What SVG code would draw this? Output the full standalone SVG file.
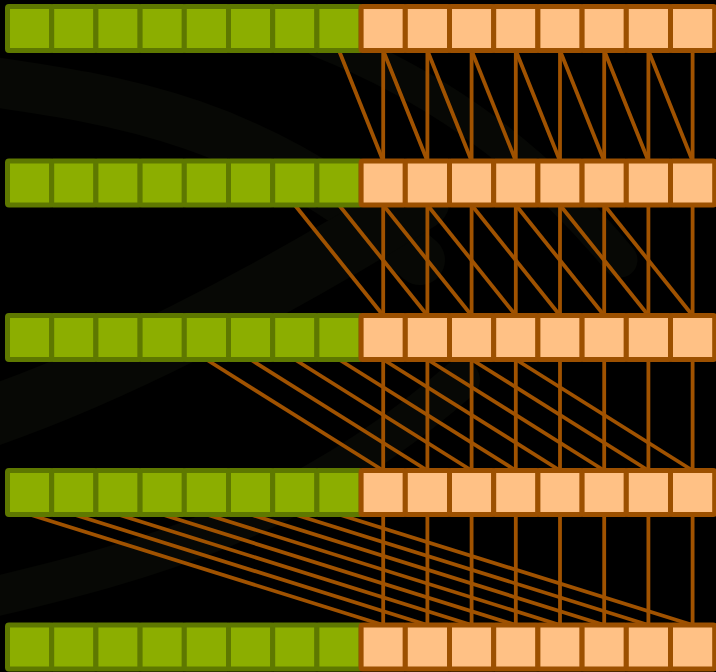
<svg xmlns="http://www.w3.org/2000/svg" width="716" height="672" viewBox="0 0 716 672">
<style>
.g{fill:#8cae00;stroke:#5e7800;stroke-width:5}
.o{fill:#ffc185;stroke:#9c5000;stroke-width:5}
.c line{stroke:#a05200;stroke-width:3.8;stroke-linecap:butt}
.bg{fill:none;stroke:#070805;stroke-linecap:round}
</style>
<defs>
<rect id="cell" width="44.2" height="44" rx="1.5"/>
</defs>
<rect width="716" height="672" fill="#000"/>
<g id="background">
<path class="bg" stroke-width="50" d="M-20 80 C120 100 260 120 420 260"/>
<path class="bg" stroke-width="35" d="M320 40 C420 80 520 140 620 260"/>
<path class="bg" stroke-width="60" d="M-20 420 C100 380 260 300 420 200"/>
<path class="bg" stroke-width="40" d="M-20 600 C150 560 300 520 460 380"/>
</g>
<g class="c" id="connectors">
<line x1="383.2" y1="50.5" x2="383.2" y2="161"/><line x1="427.4" y1="50.5" x2="427.4" y2="161"/><line x1="471.6" y1="50.5" x2="471.6" y2="161"/><line x1="515.8" y1="50.5" x2="515.8" y2="161"/><line x1="560" y1="50.5" x2="560" y2="161"/><line x1="604.2" y1="50.5" x2="604.2" y2="161"/><line x1="648.4" y1="50.5" x2="648.4" y2="161"/><line x1="692.6" y1="50.5" x2="692.6" y2="161"/>
<line x1="339" y1="50.5" x2="383.2" y2="161"/><line x1="383.2" y1="50.5" x2="427.4" y2="161"/><line x1="427.4" y1="50.5" x2="471.6" y2="161"/><line x1="471.6" y1="50.5" x2="515.8" y2="161"/><line x1="515.8" y1="50.5" x2="560" y2="161"/><line x1="560" y1="50.5" x2="604.2" y2="161"/><line x1="604.2" y1="50.5" x2="648.4" y2="161"/><line x1="648.4" y1="50.5" x2="692.6" y2="161"/>
<line x1="383.2" y1="205" x2="383.2" y2="315.5"/><line x1="427.4" y1="205" x2="427.4" y2="315.5"/><line x1="471.6" y1="205" x2="471.6" y2="315.5"/><line x1="515.8" y1="205" x2="515.8" y2="315.5"/><line x1="560" y1="205" x2="560" y2="315.5"/><line x1="604.2" y1="205" x2="604.2" y2="315.5"/><line x1="648.4" y1="205" x2="648.4" y2="315.5"/><line x1="692.6" y1="205" x2="692.6" y2="315.5"/>
<line x1="294.8" y1="205" x2="383.2" y2="315.5"/><line x1="339" y1="205" x2="427.4" y2="315.5"/><line x1="383.2" y1="205" x2="471.6" y2="315.5"/><line x1="427.4" y1="205" x2="515.8" y2="315.5"/><line x1="471.6" y1="205" x2="560" y2="315.5"/><line x1="515.8" y1="205" x2="604.2" y2="315.5"/><line x1="560" y1="205" x2="648.4" y2="315.5"/><line x1="604.2" y1="205" x2="692.6" y2="315.5"/>
<line x1="383.2" y1="359.5" x2="383.2" y2="470.5"/><line x1="427.4" y1="359.5" x2="427.4" y2="470.5"/><line x1="471.6" y1="359.5" x2="471.6" y2="470.5"/><line x1="515.8" y1="359.5" x2="515.8" y2="470.5"/><line x1="560" y1="359.5" x2="560" y2="470.5"/><line x1="604.2" y1="359.5" x2="604.2" y2="470.5"/><line x1="648.4" y1="359.5" x2="648.4" y2="470.5"/><line x1="692.6" y1="359.5" x2="692.6" y2="470.5"/>
<line x1="206.4" y1="359.5" x2="383.2" y2="470.5"/><line x1="250.6" y1="359.5" x2="427.4" y2="470.5"/><line x1="294.8" y1="359.5" x2="471.6" y2="470.5"/><line x1="339" y1="359.5" x2="515.8" y2="470.5"/><line x1="383.2" y1="359.5" x2="560" y2="470.5"/><line x1="427.4" y1="359.5" x2="604.2" y2="470.5"/><line x1="471.6" y1="359.5" x2="648.4" y2="470.5"/><line x1="515.8" y1="359.5" x2="692.6" y2="470.5"/>
<line x1="383.2" y1="514.5" x2="383.2" y2="625"/><line x1="427.4" y1="514.5" x2="427.4" y2="625"/><line x1="471.6" y1="514.5" x2="471.6" y2="625"/><line x1="515.8" y1="514.5" x2="515.8" y2="625"/><line x1="560" y1="514.5" x2="560" y2="625"/><line x1="604.2" y1="514.5" x2="604.2" y2="625"/><line x1="648.4" y1="514.5" x2="648.4" y2="625"/><line x1="692.6" y1="514.5" x2="692.6" y2="625"/>
<line x1="29.6" y1="514.5" x2="383.2" y2="625"/><line x1="73.8" y1="514.5" x2="427.4" y2="625"/><line x1="118" y1="514.5" x2="471.6" y2="625"/><line x1="162.2" y1="514.5" x2="515.8" y2="625"/><line x1="206.4" y1="514.5" x2="560" y2="625"/><line x1="250.6" y1="514.5" x2="604.2" y2="625"/><line x1="294.8" y1="514.5" x2="648.4" y2="625"/><line x1="339" y1="514.5" x2="692.6" y2="625"/>
</g>
<g id="row0" transform="translate(0,6.5)">
<g id="r0c0"><use href="#cell" class="g" x="7.5"/></g><g id="r0c1"><use href="#cell" class="g" x="51.7"/></g><g id="r0c2"><use href="#cell" class="g" x="95.9"/></g><g id="r0c3"><use href="#cell" class="g" x="140.1"/></g><g id="r0c4"><use href="#cell" class="g" x="184.3"/></g><g id="r0c5"><use href="#cell" class="g" x="228.5"/></g><g id="r0c6"><use href="#cell" class="g" x="272.7"/></g><g id="r0c7"><use href="#cell" class="g" x="316.9"/></g>
<g id="r0c8"><use href="#cell" class="o" x="361.1"/></g><g id="r0c9"><use href="#cell" class="o" x="405.3"/></g><g id="r0c10"><use href="#cell" class="o" x="449.5"/></g><g id="r0c11"><use href="#cell" class="o" x="493.7"/></g><g id="r0c12"><use href="#cell" class="o" x="537.9"/></g><g id="r0c13"><use href="#cell" class="o" x="582.1"/></g><g id="r0c14"><use href="#cell" class="o" x="626.3"/></g><g id="r0c15"><use href="#cell" class="o" x="670.5"/></g>
</g>
<g id="row1" transform="translate(0,161)">
<g id="r1c0"><use href="#cell" class="g" x="7.5"/></g><g id="r1c1"><use href="#cell" class="g" x="51.7"/></g><g id="r1c2"><use href="#cell" class="g" x="95.9"/></g><g id="r1c3"><use href="#cell" class="g" x="140.1"/></g><g id="r1c4"><use href="#cell" class="g" x="184.3"/></g><g id="r1c5"><use href="#cell" class="g" x="228.5"/></g><g id="r1c6"><use href="#cell" class="g" x="272.7"/></g><g id="r1c7"><use href="#cell" class="g" x="316.9"/></g>
<g id="r1c8"><use href="#cell" class="o" x="361.1"/></g><g id="r1c9"><use href="#cell" class="o" x="405.3"/></g><g id="r1c10"><use href="#cell" class="o" x="449.5"/></g><g id="r1c11"><use href="#cell" class="o" x="493.7"/></g><g id="r1c12"><use href="#cell" class="o" x="537.9"/></g><g id="r1c13"><use href="#cell" class="o" x="582.1"/></g><g id="r1c14"><use href="#cell" class="o" x="626.3"/></g><g id="r1c15"><use href="#cell" class="o" x="670.5"/></g>
</g>
<g id="row2" transform="translate(0,315.5)">
<g id="r2c0"><use href="#cell" class="g" x="7.5"/></g><g id="r2c1"><use href="#cell" class="g" x="51.7"/></g><g id="r2c2"><use href="#cell" class="g" x="95.9"/></g><g id="r2c3"><use href="#cell" class="g" x="140.1"/></g><g id="r2c4"><use href="#cell" class="g" x="184.3"/></g><g id="r2c5"><use href="#cell" class="g" x="228.5"/></g><g id="r2c6"><use href="#cell" class="g" x="272.7"/></g><g id="r2c7"><use href="#cell" class="g" x="316.9"/></g>
<g id="r2c8"><use href="#cell" class="o" x="361.1"/></g><g id="r2c9"><use href="#cell" class="o" x="405.3"/></g><g id="r2c10"><use href="#cell" class="o" x="449.5"/></g><g id="r2c11"><use href="#cell" class="o" x="493.7"/></g><g id="r2c12"><use href="#cell" class="o" x="537.9"/></g><g id="r2c13"><use href="#cell" class="o" x="582.1"/></g><g id="r2c14"><use href="#cell" class="o" x="626.3"/></g><g id="r2c15"><use href="#cell" class="o" x="670.5"/></g>
</g>
<g id="row3" transform="translate(0,470.5)">
<g id="r3c0"><use href="#cell" class="g" x="7.5"/></g><g id="r3c1"><use href="#cell" class="g" x="51.7"/></g><g id="r3c2"><use href="#cell" class="g" x="95.9"/></g><g id="r3c3"><use href="#cell" class="g" x="140.1"/></g><g id="r3c4"><use href="#cell" class="g" x="184.3"/></g><g id="r3c5"><use href="#cell" class="g" x="228.5"/></g><g id="r3c6"><use href="#cell" class="g" x="272.7"/></g><g id="r3c7"><use href="#cell" class="g" x="316.9"/></g>
<g id="r3c8"><use href="#cell" class="o" x="361.1"/></g><g id="r3c9"><use href="#cell" class="o" x="405.3"/></g><g id="r3c10"><use href="#cell" class="o" x="449.5"/></g><g id="r3c11"><use href="#cell" class="o" x="493.7"/></g><g id="r3c12"><use href="#cell" class="o" x="537.9"/></g><g id="r3c13"><use href="#cell" class="o" x="582.1"/></g><g id="r3c14"><use href="#cell" class="o" x="626.3"/></g><g id="r3c15"><use href="#cell" class="o" x="670.5"/></g>
</g>
<g id="row4" transform="translate(0,625)">
<g id="r4c0"><use href="#cell" class="g" x="7.5"/></g><g id="r4c1"><use href="#cell" class="g" x="51.7"/></g><g id="r4c2"><use href="#cell" class="g" x="95.9"/></g><g id="r4c3"><use href="#cell" class="g" x="140.1"/></g><g id="r4c4"><use href="#cell" class="g" x="184.3"/></g><g id="r4c5"><use href="#cell" class="g" x="228.5"/></g><g id="r4c6"><use href="#cell" class="g" x="272.7"/></g><g id="r4c7"><use href="#cell" class="g" x="316.9"/></g>
<g id="r4c8"><use href="#cell" class="o" x="361.1"/></g><g id="r4c9"><use href="#cell" class="o" x="405.3"/></g><g id="r4c10"><use href="#cell" class="o" x="449.5"/></g><g id="r4c11"><use href="#cell" class="o" x="493.7"/></g><g id="r4c12"><use href="#cell" class="o" x="537.9"/></g><g id="r4c13"><use href="#cell" class="o" x="582.1"/></g><g id="r4c14"><use href="#cell" class="o" x="626.3"/></g><g id="r4c15"><use href="#cell" class="o" x="670.5"/></g>
</g>
</svg>
